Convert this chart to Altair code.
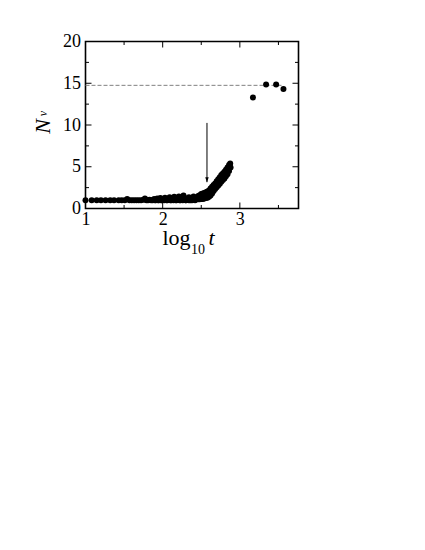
import altair as alt
import pandas as pd

# ---- data ----
log_t = [1.00, 1.08, 1.145, 1.20, 1.26, 1.32, 1.37, 1.43, 1.47, 1.51,
         1.54, 1.57, 1.60, 1.63, 1.66, 1.69, 1.72, 1.75, 1.77, 1.79,
         1.81, 1.83, 1.85, 1.87, 1.89, 1.91, 1.93, 1.95, 1.97, 1.99,
         2.01, 2.03, 2.05, 2.07, 2.09, 2.11, 2.13, 2.15, 2.17, 2.19,
         2.21, 2.23, 2.25, 2.27, 2.28, 2.30, 2.32, 2.34, 2.36, 2.38,
         2.40, 2.42, 2.44,
         # upper trace of the rise
         2.46, 2.48, 2.50, 2.52, 2.54, 2.56, 2.58, 2.60, 2.62, 2.64,
         2.66, 2.68, 2.70, 2.72, 2.74, 2.76, 2.78, 2.80, 2.82, 2.84,
         2.86, 2.875,
         # lower trace of the rise
         2.46, 2.48, 2.50, 2.52, 2.54, 2.56, 2.58, 2.60, 2.62, 2.64,
         2.66, 2.68, 2.70, 2.72, 2.74, 2.76, 2.78, 2.80, 2.82, 2.84,
         2.86, 2.88,
         # middle of the rise
         2.60, 2.64, 2.68, 2.72, 2.76, 2.80, 2.84, 2.87,
         # floor of the band
         1.90, 1.94, 1.98, 2.02, 2.06, 2.10, 2.14, 2.18, 2.22, 2.26,
         2.30, 2.34, 2.38, 2.42,
         # late points
         3.17, 3.34, 3.47, 3.565]
n_v = [1.0, 1.0, 1.0, 1.0, 1.0, 1.0, 1.0, 1.0, 1.0, 1.0,
       1.15, 1.0, 1.0, 1.0, 1.0, 1.0, 1.0, 1.05, 1.2, 1.0,
       1.0, 1.05, 1.0, 1.0, 1.15, 1.0, 1.2, 1.0, 1.25, 1.0,
       1.1, 1.3, 1.0, 1.15, 1.35, 1.0, 1.2, 1.4, 1.0, 1.15,
       1.45, 1.0, 1.25, 1.55, 1.3, 1.0, 1.1, 1.35, 1.0, 1.2,
       1.45, 1.05, 1.3,
       1.5, 1.6, 1.75, 1.8, 1.85, 1.95, 2.05, 2.15, 2.4, 2.6,
       2.8, 3.0, 3.25, 3.5, 3.75, 4.0, 4.2, 4.4, 4.65, 4.9,
       5.2, 5.4,
       1.1, 1.1, 1.15, 1.15, 1.2, 1.25, 1.3, 1.4, 1.55, 1.8,
       2.1, 2.35, 2.55, 2.75, 2.95, 3.2, 3.4, 3.6, 3.85, 4.1,
       4.5, 4.9,
       1.8, 2.2, 2.7, 3.1, 3.6, 4.0, 4.5, 5.0,
       1.0, 1.0, 1.0, 1.0, 1.0, 1.0, 1.0, 1.0, 1.0, 1.0,
       1.0, 1.0, 1.0, 1.0,
       13.3, 14.85, 14.85, 14.3]

plateau_x = [1.0, 3.565]
plateau_y = [14.75, 14.75]

arrow_x = [2.574]
arrow_top = [10.25]
arrow_tip = [3.15]

x_major = [1, 2, 3]
x_minor = [1.5, 2.5, 3.5]
y_major = [0, 5, 10, 15, 20]
y_minor = [2.5, 7.5, 12.5, 17.5]

W, H = 213, 167
FONT = "Liberation Serif"

xs = alt.Scale(domain=[1, 3.76], nice=False, zero=False)
ys = alt.Scale(domain=[0, 20], nice=False, zero=False)

pts = pd.DataFrame({"x": log_t, "y": n_v})
plateau = pd.DataFrame({"x": plateau_x, "y": plateau_y})
arrow = pd.DataFrame({"x": arrow_x, "y": arrow_top, "y2": arrow_tip})

xaxis = alt.Axis(values=x_major, ticks=False, tickSize=0, domain=False, grid=False,
                 title=None, labelFont=FONT, labelFontSize=18, labelColor="black",
                 labelPadding=2, labelFlush=False, labelOverlap=False, format="d")
yaxis = alt.Axis(values=y_major, ticks=False, tickSize=0, domain=False, grid=False,
                 title=None, labelFont=FONT, labelFontSize=18, labelColor="black",
                 labelPadding=5, labelFlush=False, labelOverlap=False, format="d")

points = alt.Chart(pts).mark_circle(size=36, color="black", opacity=1).encode(
    x=alt.X("x:Q", scale=xs, axis=xaxis),
    y=alt.Y("y:Q", scale=ys, axis=yaxis),
)

dash = alt.Chart(plateau).mark_line(color="#808080", strokeDash=[4, 2], strokeWidth=1).encode(
    x=alt.X("x:Q", scale=xs), y=alt.Y("y:Q", scale=ys))

arrow_line = alt.Chart(arrow).mark_rule(color="black", strokeWidth=1).encode(
    x=alt.X("x:Q", scale=xs), y=alt.Y("y:Q", scale=ys), y2="y2:Q")
arrow_head = alt.Chart(arrow).mark_point(
    shape="M -0.35 -1 L 0 0 L 0.35 -1 Z", size=100, filled=True, color="black", opacity=1
).encode(x=alt.X("x:Q", scale=xs), y=alt.Y("y2:Q", scale=ys))


def ticks(vals, axis, length):
    df = pd.DataFrame({"v": vals})
    layers = []
    if axis == "x":
        for y0, y1 in [(H, H - length), (0, length)]:
            layers.append(alt.Chart(df).mark_rule(color="black", strokeWidth=1).encode(
                x=alt.X("v:Q", scale=xs), y=alt.value(y0), y2=alt.value(y1)))
    else:
        for x0, x1 in [(0, length), (W, W - length)]:
            layers.append(alt.Chart(df).mark_rule(color="black", strokeWidth=1).encode(
                y=alt.Y("v:Q", scale=ys), x=alt.value(x0), x2=alt.value(x1)))
    return layers


tick_layers = (ticks(x_major, "x", 6) + ticks(x_minor, "x", 3.5)
               + ticks(y_major, "y", 6) + ticks(y_minor, "y", 3.5))

labels = pd.DataFrame({"d": [0]})


def label(text, x, y, size, style="normal", angle=0, align="left"):
    return alt.Chart(labels).mark_text(
        text=text, font=FONT, fontSize=size, fontStyle=style, color="black",
        align=align, baseline="alphabetic", angle=angle
    ).encode(x=alt.value(x), y=alt.value(y))


title_layers = [
    label("log", 77, 203, 22),
    label("10", 105.5, 212, 14),
    label("t", 123, 203, 22, style="italic"),
    label("N", -35.5, 85, 22, style="italic", angle=270, align="center"),
    label("v", -39, 72, 12, style="italic", angle=270, align="center"),
]

chart = alt.layer(
    dash, *tick_layers, arrow_line, arrow_head, points, *title_layers
).properties(
    width=W, height=H,
    autosize=alt.AutoSizeParams(type="none"),
    padding={"left": 77.5, "top": 33.5, "right": 20, "bottom": 60},
    background="white",
).configure_view(stroke="black", strokeWidth=1.6)

chart.save("out.html", embed_options={"renderer": "svg", "actions": False})
